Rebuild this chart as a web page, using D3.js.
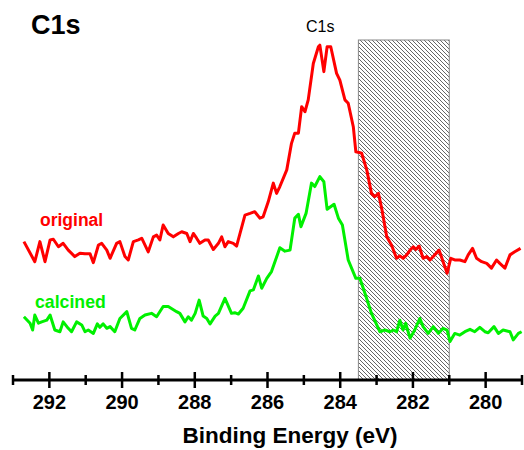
<!DOCTYPE html>
<html>
<head>
<meta charset="utf-8">
<script src="https://cdn.jsdelivr.net/npm/d3@7"></script>
<style>
  body { margin: 0; background: #fff; }
  svg { display: block; font-family: Arial, "Liberation Sans", sans-serif; }
</style>
</head>
<body>
<svg id="chart" width="524" height="450"></svg>
<script>
// binding energy (eV), intensity (a.u.)
const original = [
  [292.70, 40.7], [292.40, 34.8], [292.26, 40.7], [292.12, 34.8], [291.98, 41.2], [291.89, 41.4],
  [291.75, 39.2], [291.62, 40.2], [291.48, 38.2], [291.30, 36.3], [291.16, 37.3], [291.02, 37.1],
  [290.88, 37.1], [290.79, 34.5], [290.65, 39.7], [290.56, 40.2], [290.42, 38.2], [290.33, 35.8],
  [290.15, 40.2], [290.06, 40.7], [289.92, 36.3], [289.83, 35.3], [289.69, 40.7], [289.55, 41.2],
  [289.46, 41.7], [289.28, 37.7], [289.14, 42.1], [289.05, 42.6], [288.96, 41.2], [288.87, 45.6],
  [288.73, 43.1], [288.59, 42.1], [288.45, 43.1], [288.36, 43.6], [288.22, 43.1], [288.13, 40.7],
  [288.04, 43.1], [287.95, 41.7], [287.86, 40.2], [287.72, 41.2], [287.63, 41.2], [287.49, 38.4],
  [287.35, 40.2], [287.26, 42.1], [287.17, 39.2], [287.08, 40.7], [286.94, 40.2], [286.85, 39.4],
  [286.62, 48.5], [286.48, 49.0], [286.35, 49.5], [286.21, 47.6], [286.12, 48.0], [285.98, 52.4],
  [285.84, 57.9], [285.75, 54.9], [285.66, 56.9], [285.47, 61.8], [285.34, 69.6], [285.25, 72.6],
  [285.15, 72.6], [285.06, 80.4], [284.97, 78.9], [284.88, 82.4], [284.74, 93.1], [284.60, 98.0],
  [284.56, 98.5], [284.45, 90.7], [284.36, 98.0], [284.26, 98.0], [284.10, 90.2], [284.01, 88.2],
  [283.87, 82.4], [283.78, 81.4], [283.64, 74.5], [283.57, 67.1], [283.48, 66.9], [283.41, 66.7],
  [283.27, 61.8], [283.14, 54.9], [283.05, 53.9], [282.95, 54.9], [282.86, 50.5], [282.72, 42.1],
  [282.59, 39.7], [282.45, 35.8], [282.36, 36.5], [282.27, 35.8], [282.17, 36.8], [282.08, 38.2],
  [281.99, 39.2], [281.92, 38.4], [281.83, 39.4], [281.72, 35.8], [281.62, 36.3], [281.53, 35.3],
  [281.40, 36.8], [281.28, 38.2], [281.17, 34.8], [281.06, 31.4], [280.96, 35.8], [280.85, 35.3],
  [280.71, 35.3], [280.57, 34.8], [280.48, 36.8], [280.36, 38.7], [280.25, 35.8], [280.11, 34.8],
  [279.97, 34.3], [279.84, 32.9], [279.70, 35.3], [279.61, 34.3], [279.47, 32.9], [279.33, 36.8],
  [279.20, 37.7], [279.04, 38.7]
];

const calcined = [
  [292.70, 18.6], [292.53, 16.7], [292.46, 14.7], [292.40, 19.1], [292.30, 16.7], [292.21, 17.1],
  [292.07, 17.6], [291.98, 19.1], [291.85, 14.7], [291.71, 14.2], [291.62, 17.1], [291.48, 15.2],
  [291.39, 14.2], [291.25, 17.1], [291.11, 16.2], [291.02, 14.2], [290.93, 14.7], [290.79, 13.7],
  [290.68, 16.5], [290.61, 15.5], [290.52, 16.5], [290.42, 15.2], [290.33, 15.7], [290.20, 14.2],
  [290.06, 18.1], [289.87, 20.1], [289.74, 15.2], [289.65, 14.7], [289.51, 18.1], [289.37, 19.1],
  [289.19, 19.6], [289.05, 18.6], [288.87, 21.6], [288.73, 21.6], [288.50, 20.1], [288.41, 19.6],
  [288.27, 17.1], [288.18, 18.6], [288.09, 17.6], [287.99, 19.6], [287.88, 23.5], [287.77, 18.8],
  [287.67, 18.1], [287.58, 16.5], [287.44, 18.8], [287.35, 19.6], [287.17, 24.0], [286.99, 19.6],
  [286.90, 19.8], [286.80, 19.4], [286.67, 21.1], [286.48, 26.2], [286.39, 26.5], [286.25, 30.6],
  [286.16, 27.0], [286.02, 29.9], [285.89, 31.9], [285.66, 38.9], [285.52, 37.9], [285.38, 38.2],
  [285.25, 47.6], [285.15, 48.7], [285.08, 45.1], [284.94, 49.0], [284.79, 57.9], [284.70, 56.9],
  [284.56, 59.8], [284.45, 58.3], [284.36, 50.2], [284.17, 51.7], [284.05, 47.6], [283.94, 45.6],
  [283.78, 35.3], [283.57, 29.9], [283.46, 29.9], [283.32, 25.5], [283.14, 19.6], [282.91, 14.2],
  [282.77, 14.7], [282.63, 14.2], [282.54, 14.7], [282.45, 14.2], [282.36, 17.6], [282.27, 14.7],
  [282.20, 16.7], [282.08, 12.3], [281.95, 14.7], [281.81, 18.1], [281.72, 15.7], [281.58, 13.7],
  [281.44, 15.7], [281.30, 13.7], [281.17, 15.2], [281.06, 14.7], [280.98, 11.3], [280.85, 13.7],
  [280.71, 13.2], [280.57, 14.2], [280.43, 14.9], [280.30, 14.2], [280.16, 15.5], [280.02, 14.2],
  [279.93, 13.9], [279.77, 15.7], [279.65, 13.7], [279.52, 14.7], [279.33, 14.2], [279.24, 11.8],
  [279.10, 13.7], [279.01, 14.2]
];

const energyRange = [293, 279];
const majorTicks = [292, 290, 288, 286, 284, 282, 280];
const minorTicks = [293, 291, 289, 287, 285, 283, 281, 279];
const shadedRegion = [283.5, 281.0];

const svg = d3.select('#chart');

const x = d3.scaleLinear().domain(energyRange).range([13, 522]);
const y = d3.scaleLinear().domain([0, 100]).range([380, 40]);

// hatch pattern for the shaded window
const defs = svg.append('defs');
const hatch = defs.append('pattern')
  .attr('id', 'hatch')
  .attr('patternUnits', 'userSpaceOnUse')
  .attr('width', 4)
  .attr('height', 4);
hatch.append('rect').attr('width', 4).attr('height', 4).attr('fill', '#fff');
hatch.append('path')
  .attr('d', 'M-1,-1L5,5M-1,3L1,5M3,-1L5,1')
  .attr('stroke', '#555')
  .attr('stroke-width', 0.9);

svg.append('rect')
  .attr('x', x(shadedRegion[0]))
  .attr('y', y(100))
  .attr('width', x(shadedRegion[1]) - x(shadedRegion[0]))
  .attr('height', y(0) - y(100))
  .attr('fill', 'url(#hatch)')
  .attr('stroke', '#888')
  .attr('stroke-width', 1);

const line = d3.line()
  .x(d => x(d[0]))
  .y(d => y(d[1]));

svg.append('path')
  .datum(original)
  .attr('d', line)
  .attr('fill', 'none')
  .attr('stroke', '#ff0000')
  .attr('stroke-width', 3)
  .attr('stroke-linejoin', 'round');

svg.append('path')
  .datum(calcined)
  .attr('d', line)
  .attr('fill', 'none')
  .attr('stroke', '#00f000')
  .attr('stroke-width', 3)
  .attr('stroke-linejoin', 'round');

// x axis
const axisY = y(0);
svg.append('line')
  .attr('x1', x(energyRange[0])).attr('x2', x(energyRange[1]))
  .attr('y1', axisY).attr('y2', axisY)
  .attr('stroke', '#000').attr('stroke-width', 3);

svg.selectAll('.major')
  .data(majorTicks)
  .join('line')
  .attr('class', 'major')
  .attr('x1', d => x(d)).attr('x2', d => x(d))
  .attr('y1', axisY - 8).attr('y2', axisY + 8)
  .attr('stroke', '#000').attr('stroke-width', 2.5);

svg.selectAll('.minor')
  .data(minorTicks)
  .join('line')
  .attr('class', 'minor')
  .attr('x1', d => x(d)).attr('x2', d => x(d))
  .attr('y1', axisY - 5).attr('y2', axisY + 5)
  .attr('stroke', '#000').attr('stroke-width', 2.5);

svg.selectAll('.tick-label')
  .data(majorTicks)
  .join('text')
  .attr('class', 'tick-label')
  .attr('x', d => x(d))
  .attr('y', 409)
  .attr('text-anchor', 'middle')
  .attr('font-size', 20)
  .attr('font-weight', 'bold')
  .text(d => d);

svg.append('text')
  .attr('x', 290).attr('y', 443)
  .attr('text-anchor', 'middle')
  .attr('font-size', 22.5)
  .attr('font-weight', 'bold')
  .text('Binding Energy (eV)');

// titles and labels
svg.append('text')
  .attr('x', 31).attr('y', 34)
  .attr('font-size', 27)
  .attr('font-weight', 'bold')
  .text('C1s');

svg.append('text')
  .attr('x', x(284.55)).attr('y', 32)
  .attr('text-anchor', 'middle')
  .attr('font-size', 16)
  .text('C1s');

svg.append('text')
  .attr('x', 40).attr('y', 226)
  .attr('font-size', 17.5)
  .attr('font-weight', 'bold')
  .attr('fill', '#ff0000')
  .text('original');

svg.append('text')
  .attr('x', 35).attr('y', 308)
  .attr('font-size', 17.7)
  .attr('font-weight', 'bold')
  .attr('fill', '#00f000')
  .text('calcined');
</script>
</body>
</html>
